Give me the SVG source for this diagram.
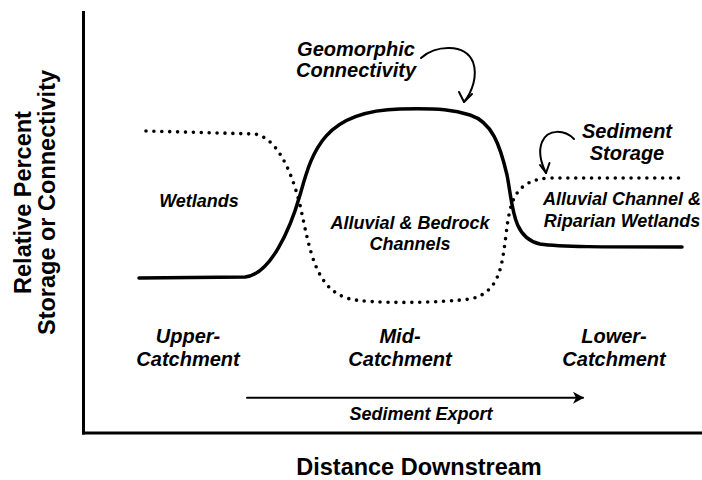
<svg xmlns="http://www.w3.org/2000/svg" width="702" height="480" viewBox="0 0 702 480">
<defs>
<style>
.ax{fill:none;stroke:#000;stroke-width:3}
.solid{fill:none;stroke:#000;stroke-width:3.5;stroke-linecap:round;stroke-linejoin:round}
.dot{fill:none;stroke:#000;stroke-width:3.6;stroke-linecap:round;stroke-dasharray:0 7.9}
.thin{fill:none;stroke:#000;stroke-width:2;stroke-linecap:round;stroke-linejoin:round}
.axl{font-family:"Liberation Sans",Arial,sans-serif;font-weight:bold;font-size:23.5px;text-anchor:middle;fill:#000}
.lab{font-family:"Liberation Sans",Arial,sans-serif;font-weight:bold;font-style:italic;font-size:18px;text-anchor:middle;fill:#000}
.big{font-size:20px}
</style>
<marker id="ah" markerWidth="12" markerHeight="12" refX="10" refY="6" orient="auto" markerUnits="userSpaceOnUse">
<path d="M0,0 L11,6 L0,12 L3,6 Z" fill="#000"/>
</marker>
</defs>
<rect width="702" height="480" fill="#fff"/>
<g id="axes">
<line class="ax" x1="83.5" y1="11" x2="83.5" y2="434.5"/>
<line class="ax" x1="82" y1="433" x2="702" y2="433"/>
<text class="axl" transform="translate(31,202.5) rotate(-90)">Relative Percent</text>
<text class="axl" transform="translate(55,202.5) rotate(-90)">Storage or Connectivity</text>
<text class="axl" x="419" y="475">Distance Downstream</text>
</g>
<g id="connectors">
<path id="connectivity-curve" class="solid" d="M139,278 L245,277 C270,275 290,230 300,195 C312,153 322,111 400,109 C440,108 455,110 470,115 C492,122 500,145 507,175 C513,205 512,238 540,244 C560,247 600,247 682,247"/>
<path id="storage-curve" class="dot" d="M146,131 L255,134 C275,138 290,165 300,205 C310,250 315,290 350,299 C372,304 440,303 470,299 C500,293 502,265 506,235 C510,200 515,180 550,178 L683,178"/>
<path id="geo-arrow" class="thin" d="M421,58 C435,45 465,43 473,62 C478,76 472,92 464,102"/>
<path class="thin" d="M459,92 L464,102 L472,94"/>
<path id="storage-arrow" class="thin" d="M574,139 C565,130 548,128 542,142 C538,152 541,163 546,173"/>
<path class="thin" d="M540,165 L546,173 L549.5,163"/>
<line id="export-arrow" class="thin" x1="247" y1="397.7" x2="583" y2="397.7" marker-end="url(#ah)"/>
</g>
<g id="geomorphic-connectivity">
<text class="lab big" x="356" y="56">Geomorphic</text>
<text class="lab big" x="356" y="77">Connectivity</text>
</g>
<g id="sediment-storage">
<text class="lab big" x="627" y="138">Sediment</text>
<text class="lab big" x="627" y="160">Storage</text>
</g>
<g id="wetlands">
<text class="lab" x="199" y="206.5">Wetlands</text>
</g>
<g id="alluvial-bedrock">
<text class="lab" x="410" y="229">Alluvial &amp; Bedrock</text>
<text class="lab" x="410" y="250">Channels</text>
</g>
<g id="alluvial-riparian">
<text class="lab" x="622" y="205">Alluvial Channel &amp;</text>
<text class="lab" x="622" y="226.5">Riparian Wetlands</text>
</g>
<g id="upper-catchment">
<text class="lab big" x="188" y="343">Upper-</text>
<text class="lab big" x="188" y="366">Catchment</text>
</g>
<g id="mid-catchment">
<text class="lab big" x="400" y="343">Mid-</text>
<text class="lab big" x="400" y="366">Catchment</text>
</g>
<g id="lower-catchment">
<text class="lab big" x="614" y="343">Lower-</text>
<text class="lab big" x="614" y="366">Catchment</text>
</g>
<g id="sediment-export">
<text class="lab" x="421" y="420">Sediment Export</text>
</g>
</svg>
